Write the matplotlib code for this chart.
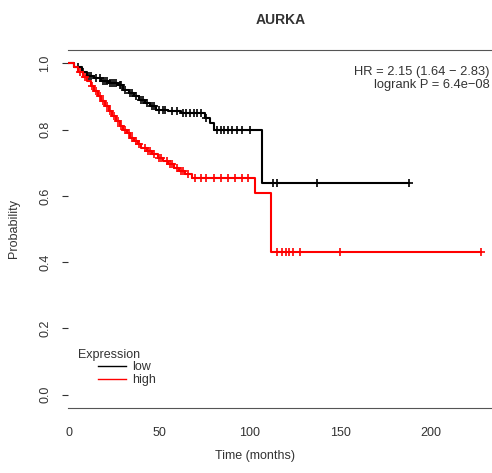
import matplotlib
matplotlib.use("Agg")
import matplotlib.pyplot as plt
import numpy as np

plt.rcParams['font.family'] = ['Liberation Sans', 'DejaVu Sans']

# Kaplan-Meier steps (time in months, survival after the step)
low_times = [0, 3, 7, 10, 14, 18, 22, 27, 30, 33, 36, 39, 42, 45, 48, 55, 62, 75, 78, 80, 107]
low_surv = [1.0, 0.99, 0.975, 0.962, 0.955, 0.947, 0.94, 0.933, 0.92, 0.91, 0.90, 0.89,
            0.88, 0.87, 0.86, 0.855, 0.85, 0.835, 0.82, 0.80, 0.64]
low_end = 188
low_censor = [5, 8, 11, 12, 15, 17, 19, 20, 21, 23, 24, 25, 26, 28, 29, 31, 34, 35, 37, 40,
              41, 43, 46, 47, 50, 52, 53, 57, 60, 63, 65, 67, 69, 71, 73, 76,
              82, 84, 86, 88, 90, 93, 96, 100, 113, 115, 137, 188]

high_times = [0, 3, 5, 8, 10, 12, 14, 16, 18, 20, 22, 24, 26, 28, 30, 32, 34, 36, 38, 40,
              43, 46, 49, 52, 55, 58, 61, 64, 68, 103, 112]
high_surv = [1.0, 0.99, 0.975, 0.96, 0.945, 0.93, 0.915, 0.90, 0.885, 0.87, 0.855, 0.84,
             0.825, 0.81, 0.80, 0.79, 0.775, 0.765, 0.755, 0.745, 0.735, 0.725, 0.715,
             0.705, 0.695, 0.685, 0.675, 0.665, 0.655, 0.61, 0.43]
high_end = 228
high_censor = [6, 9, 13, 15, 17, 19, 21, 23, 25, 27, 29, 31, 33, 35, 37, 39, 42, 44, 45,
               47, 50, 51, 54, 56, 57, 60, 62, 63, 66, 70, 73, 76, 80,
               84, 88, 92, 96, 99, 115, 118, 120, 122, 124, 128, 150, 228]

groups = ["low", "high"]
colors = ["black", "red"]


def surv_at(times, surv, t):
    i = np.searchsorted(times, t, side="right") - 1
    return np.asarray(surv)[i]


fig = plt.figure(figsize=(4.92, 4.73), dpi=100)
ax = fig.add_axes([68 / 492, 1 - 408 / 473, 1 - 68 / 492, 358 / 473])

for name, col, times, surv, end, cens in [
    ("low", colors[0], low_times, low_surv, low_end, low_censor),
    ("high", colors[1], high_times, high_surv, high_end, high_censor),
]:
    x = list(times) + [end]
    y = list(surv) + [surv[-1]]
    ax.step(x, y, where="post", color=col, lw=1.5, label=name)
    ax.plot(cens, surv_at(times, surv, cens), ls="none", marker="+",
            ms=6, mew=1.2, color=col)

ax.set_xlim(-0.5, 234)
ax.set_ylim(-0.04, 1.04)
ax.set_xticks([0, 50, 100, 150, 200])
ax.set_yticks([0.0, 0.2, 0.4, 0.6, 0.8, 1.0])
ax.set_yticklabels(["0.0", "0.2", "0.4", "0.6", "0.8", "1.0"], rotation=90, va="center")
ax.tick_params(labelsize=9, length=4, color="#333333", labelcolor="#333333")
ax.tick_params(axis="y", pad=8)
ax.tick_params(axis="x", length=0, pad=14)
for s in ["left", "right"]:
    ax.spines[s].set_visible(False)
for s in ["top", "bottom"]:
    ax.spines[s].set_color("#555555")

ax.set_xlabel("Time (months)", fontsize=9, color="#333333")
ax.xaxis.set_label_coords((255 - 68) / (492 - 68), -(450 - 408) / 358)
ax.set_ylabel("Probability", fontsize=9, color="#333333")
ax.yaxis.set_label_coords(-(68 - 20) / (492 - 68), 0.5)
fig.text(281 / 492, 1 - 20 / 473, "AURKA", ha="center", va="center",
         fontsize=10, fontweight="bold", color="#333333")

ax.text(0.995, 0.955, "HR = 2.15 (1.64 \u2212 2.83)\nlogrank P = 6.4e\u221208",
        transform=ax.transAxes, ha="right", va="top", fontsize=9.3,
        color="#333333", linespacing=1.05)

ax.text((78 - 68) / 424, (408 - 355) / 358, "Expression", transform=ax.transAxes,
        ha="left", va="center", fontsize=9, color="#333333")
leg = ax.legend(loc="upper left", bbox_to_anchor=((98 - 68) / 424, (408 - 361) / 358),
                frameon=False, fontsize=9, handlelength=2.2, handletextpad=0.5,
                labelspacing=0.1, borderpad=0, borderaxespad=0)
for h in leg.get_lines():
    h.set_linewidth(1.0)
for t in leg.get_texts():
    t.set_color("#333333")

fig.savefig("out.png", dpi=100, facecolor="white")
